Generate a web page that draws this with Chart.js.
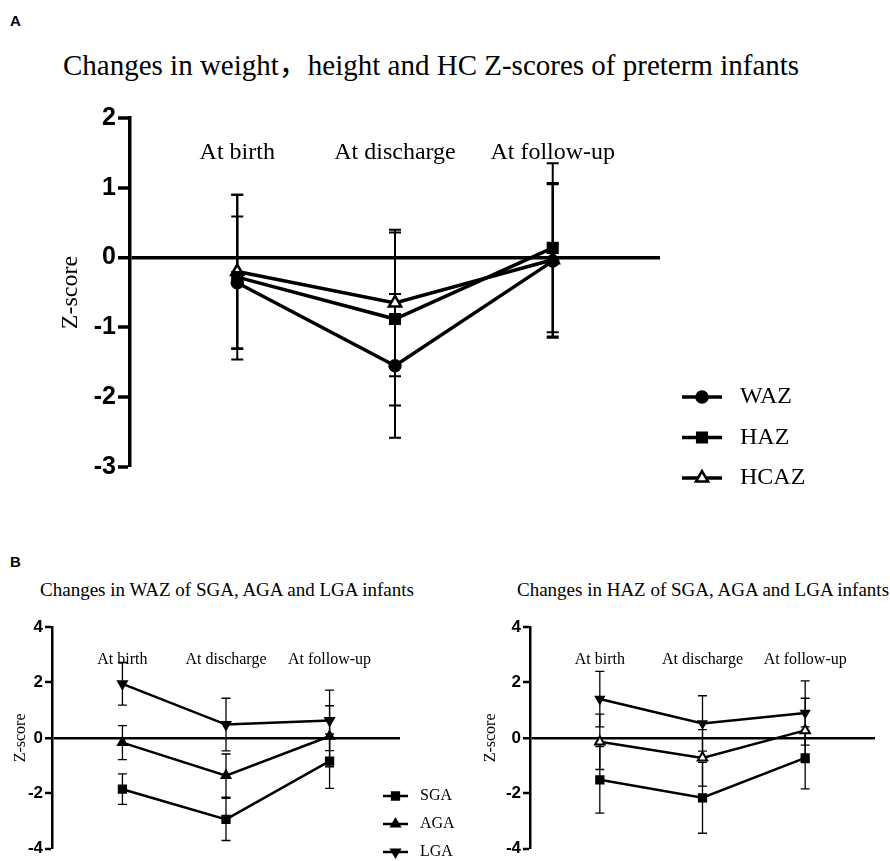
<!DOCTYPE html>
<html>
<head>
<meta charset="utf-8">
<script src="https://cdn.jsdelivr.net/npm/chart.js@4/dist/chart.umd.min.js"></script>
<style>
  body { margin: 0; width: 890px; height: 861px; background: #fff; position: relative; overflow: hidden; }
  canvas { position: absolute; }
  .lbl { position: absolute; color: #000; white-space: nowrap; }
  .panel { font: bold 15px "Liberation Sans", Arial, sans-serif; left: 10px; }
  .title { font-family: "Liberation Serif", "Times New Roman", "Noto Sans CJK SC", serif; }
</style>
</head>
<body>
<div class="lbl panel" style="top:12px">A</div>
<div class="lbl title" style="left:63px;top:47px;font-size:29px;line-height:36px">Changes in weight，height and HC Z-scores of preterm infants</div>
<div class="lbl panel" style="top:553px">B</div>
<div class="lbl title" style="left:27px;width:400px;text-align:center;top:579px;font-size:19px;line-height:22px">Changes in WAZ of SGA, AGA and LGA infants</div>
<div class="lbl title" style="left:503px;width:400px;text-align:center;top:579px;font-size:19px;line-height:22px">Changes in HAZ of SGA, AGA and LGA infants</div>

<canvas id="chartA" width="890" height="520" style="left:0;top:0"></canvas>
<canvas id="chartWaz" width="470" height="301" style="left:0;top:560px"></canvas>
<canvas id="chartHaz" width="450" height="301" style="left:440px;top:560px"></canvas>

<script>
const timepoints = ['At birth', 'At discharge', 'At follow-up'];

// panel A: whole cohort, mean and SD
const wazMean = [-0.36, -1.55, -0.05];
const wazSd = [0.95, 1.03, 1.1];
const hazMean = [-0.28, -0.88, 0.14];
const hazSd = [1.18, 1.24, 1.21];
const hcazMean = [-0.2, -0.65, -0.03];
const hcazSd = [1.1, 1.05, 1.1];

// panel B left: WAZ by group
const sgaWazMean = [-1.85, -2.94, -0.84];
const sgaWazSd = [0.55, 0.76, 0.98];
const agaWazMean = [-0.17, -1.36, 0.06];
const agaWazSd = [0.61, 0.78, 1.1];
const lgaWazMean = [1.95, 0.48, 0.63];
const lgaWazSd = [0.77, 0.95, 1.09];

// panel B right: HAZ by group
const sgaHazMean = [-1.51, -2.16, -0.72];
const sgaHazSd = [1.2, 1.28, 1.12];
const agaHazMean = [-0.14, -0.72, 0.27];
const agaHazSd = [1.0, 1.02, 1.16];
const lgaHazMean = [1.4, 0.52, 0.9];
const lgaHazSd = [1.0, 1.0, 1.16];

const SERIF = '"Liberation Serif", "Times New Roman", serif';
const SANS = '"Liberation Sans", Arial, sans-serif';

const errorBars = {
  id: 'errorBars',
  beforeDatasetsDraw(chart, args, opts) {
    const { ctx, scales: { x, y } } = chart;
    ctx.save();
    ctx.strokeStyle = '#000';
    ctx.lineWidth = opts.width;
    chart.data.datasets.forEach(ds => {
      ds.data.forEach((p, i) => {
        const px = x.getPixelForValue(p.x);
        const top = y.getPixelForValue(p.y + ds.sd[i]);
        const bot = y.getPixelForValue(p.y - ds.sd[i]);
        ctx.beginPath();
        ctx.moveTo(px, top); ctx.lineTo(px, bot);
        ctx.moveTo(px - opts.cap, top); ctx.lineTo(px + opts.cap, top);
        ctx.moveTo(px - opts.cap, bot); ctx.lineTo(px + opts.cap, bot);
        ctx.stroke();
      });
    });
    ctx.restore();
  }
};

const timeLabels = {
  id: 'timeLabels',
  beforeDatasetsDraw(chart, args, opts) {
    const { ctx, scales: { x, y } } = chart;
    ctx.save();
    ctx.font = opts.font;
    ctx.fillStyle = '#000';
    ctx.textAlign = 'center';
    ctx.textBaseline = 'middle';
    timepoints.forEach((t, i) => ctx.fillText(t, x.getPixelForValue(i + 1), y.getPixelForValue(opts.at)));
    ctx.restore();
  }
};

// prism style legend: short line with the marker on it
const lineLegend = {
  id: 'lineLegend',
  afterDraw(chart, args, opts) {
    const ctx = chart.ctx;
    ctx.save();
    ctx.font = opts.font;
    ctx.textAlign = 'left';
    ctx.textBaseline = 'middle';
    chart.data.datasets.forEach((ds, i) => {
      const y = opts.y + i * opts.gap;
      ctx.strokeStyle = '#000';
      ctx.lineWidth = ds.borderWidth;
      ctx.beginPath();
      ctx.moveTo(opts.x, y);
      ctx.lineTo(opts.x + opts.len, y);
      ctx.stroke();
      ctx.fillStyle = ds.pointBackgroundColor;
      ctx.lineWidth = ds.pointBorderWidth;
      Chart.helpers.drawPoint(ctx, {
        pointStyle: ds.pointStyle, radius: ds.pointRadius,
        rotation: ds.pointRotation || 0, borderWidth: ds.pointBorderWidth
      }, opts.x + opts.len / 2, y);
      ctx.fillStyle = '#000';
      ctx.fillText(ds.label, opts.x + opts.len + opts.pad, y);
    });
    ctx.restore();
  }
};

function series(label, mean, sd, style) {
  return Object.assign({
    label,
    sd,
    data: mean.map((v, i) => ({ x: i + 1, y: v })),
    borderColor: '#000',
    pointBorderColor: '#000',
    pointBackgroundColor: '#000',
    pointBorderWidth: 1.5,
    tension: 0,
    fill: false
  }, style);
}

function makeChart(id, datasets, o, plugins) {
  return new Chart(document.getElementById(id), {
    type: 'line',
    data: { datasets },
    plugins,
    options: {
      responsive: false,
      animation: false,
      events: [],
      layout: { autoPadding: false, padding: o.padding },
      scales: {
        x: { type: 'linear', min: 0.32, max: 3.68, display: false },
        y: {
          min: o.yMin,
          max: o.yMax,
          afterFit(s) { s.width = o.axisW; },
          ticks: { stepSize: o.step, color: '#000', padding: 2, font: { family: SANS, weight: 'bold', size: o.tickSize } },
          border: { display: true, color: '#000', width: o.axisLine },
          grid: {
            drawOnChartArea: true,
            color: c => (c.tick && c.tick.value === 0 ? '#000' : 'rgba(0,0,0,0)'),
            lineWidth: c => (c.tick && c.tick.value === 0 ? o.zeroLine : 0),
            tickColor: '#000',
            tickWidth: o.axisLine,
            tickLength: o.tickLen
          },
          title: { display: true, text: 'Z-score', color: '#000', font: { family: SERIF, size: o.titleSize }, padding: { top: o.titlePad } }
        }
      },
      plugins: {
        legend: { display: false },
        tooltip: { enabled: false },
        errorBars: o.errors,
        timeLabels: o.labels,
        lineLegend: o.legend
      }
    }
  });
}

makeChart('chartA', [
  series('WAZ', wazMean, wazSd, { borderWidth: 3.5, pointStyle: 'circle', pointRadius: 6 }),
  series('HAZ', hazMean, hazSd, { borderWidth: 3.5, pointStyle: 'rect', pointRadius: 7.5 }),
  series('HCAZ', hcazMean, hcazSd, { borderWidth: 3.5, pointStyle: 'triangle', pointRadius: 7, pointBackgroundColor: '#fff', pointBorderWidth: 2.5 })
], {
  padding: { left: 0, top: 118, right: 230, bottom: 53 },
  yMin: -3, yMax: 2, step: 1, axisW: 130, tickSize: 25, axisLine: 3.5, zeroLine: 3.5, tickLen: 12,
  titleSize: 24, titlePad: 56,
  errors: { width: 2, cap: 6 },
  labels: { font: '24px ' + SERIF, at: 1.5 },
  legend: { font: '24px ' + SERIF, x: 682, len: 40, pad: 18, y: 397, gap: 40.5 }
}, [errorBars, timeLabels, lineLegend]);

const groupOpts = {
  yMin: -4, yMax: 4, step: 2, tickSize: 17, axisLine: 2.5, zeroLine: 2.5, tickLen: 7,
  titleSize: 16,
  errors: { width: 1.3, cap: 4.5 },
  labels: { font: '16px ' + SERIF, at: 2.8 }
};

makeChart('chartWaz', [
  series('SGA', sgaWazMean, sgaWazSd, { borderWidth: 2.5, pointStyle: 'rect', pointRadius: 5.5 }),
  series('AGA', agaWazMean, agaWazSd, { borderWidth: 2.5, pointStyle: 'triangle', pointRadius: 5.5 }),
  series('LGA', lgaWazMean, lgaWazSd, { borderWidth: 2.5, pointStyle: 'triangle', pointRadius: 5.5, pointRotation: 180 })
], Object.assign({}, groupOpts, {
  padding: { left: 0, top: 67, right: 70, bottom: 5 },
  axisW: 52, titlePad: 11,
  legend: { font: '16px ' + SERIF, x: 383, len: 25, pad: 12, y: 236, gap: 28 }
}), [errorBars, timeLabels, lineLegend]);

makeChart('chartHaz', [
  series('SGA', sgaHazMean, sgaHazSd, { borderWidth: 2.5, pointStyle: 'rect', pointRadius: 5.5 }),
  series('AGA', agaHazMean, agaHazSd, { borderWidth: 2.5, pointStyle: 'triangle', pointRadius: 5.5, pointBackgroundColor: '#fff', pointBorderWidth: 2 }),
  series('LGA', lgaHazMean, lgaHazSd, { borderWidth: 2.5, pointStyle: 'triangle', pointRadius: 5, pointRotation: 180 })
], Object.assign({}, groupOpts, {
  padding: { left: 0, top: 67, right: 15, bottom: 5 },
  axisW: 90, titlePad: 41
}), [errorBars, timeLabels]);
</script>
</body>
</html>
